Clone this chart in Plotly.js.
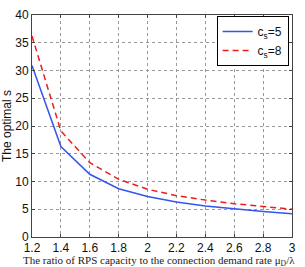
<!DOCTYPE html>
<html><head><meta charset="utf-8">
<script src="https://cdn.plot.ly/plotly-3.0.1.min.js"></script>
<style>html,body{margin:0;padding:0;background:#fff}#c{width:305px;height:267px}</style>
</head><body><div id="c"></div>
<script>
const ratio = [1.2, 1.4, 1.6, 1.8, 2.0, 2.2, 2.4, 2.6, 2.8, 3.0];
const cs5 = [30.9, 16.3, 11.3, 8.7, 7.3, 6.3, 5.6, 5.05, 4.6, 4.2];
const cs8 = [36.2, 19.1, 13.4, 10.4, 8.6, 7.45, 6.65, 6.0, 5.5, 5.0];
const xTicks = [1.2, 1.4, 1.6, 1.8, 2, 2.2, 2.4, 2.6, 2.8, 3];
const yTicks = [0, 5, 10, 15, 20, 25, 30, 35, 40];

const traces = [
  {x: ratio, y: cs5, mode: 'lines', name: 'c<sub>s</sub>=5',
   line: {color: '#3355ee', width: 1.5}},
  {x: ratio, y: cs8, mode: 'lines', name: 'c<sub>s</sub>=8',
   line: {color: '#ee1c1c', width: 1.5, dash: '6px,4px'}}
];
const axisCommon = {
  showline: true, mirror: 'ticks', linecolor: '#444', linewidth: 1,
  ticks: 'inside', ticklen: 3, tickcolor: '#444',
  showgrid: true, gridcolor: '#999', griddash: 'dot', gridwidth: 1,
  zeroline: false, automargin: false,
  tickfont: {family: 'Liberation Sans, Arial', size: 12, color: '#111'}
};
const layout = {
  width: 305, height: 267,
  margin: {l: 32, r: 13, t: 15, b: 30},
  paper_bgcolor: '#fff', plot_bgcolor: '#fff',
  showlegend: true,
  legend: {x: 0.987, y: 0.995, xanchor: 'right', yanchor: 'top',
    bordercolor: '#000', borderwidth: 1, bgcolor: '#fff',
    font: {family: 'Liberation Sans, Arial', size: 12, color: '#111'},
    tracegroupgap: 2},
  xaxis: Object.assign({}, axisCommon, {
    range: [1.2, 3], tickvals: xTicks, ticktext: xTicks.map(String)
  }),
  yaxis: Object.assign({}, axisCommon, {
    range: [0, 40], tickvals: yTicks, ticktext: yTicks.map(String),
    title: {text: 'The optimal s',
      font: {family: 'Liberation Sans, Arial', size: 12, color: '#111'}, standoff: 2}
  }),
  annotations: [{
    text: 'The ratio of RPS capacity to the connection demand rate μ<sub>D</sub>/λ',
    xref: 'paper', yref: 'paper', x: 0.49, y: -0.106, xanchor: 'center', yanchor: 'middle',
    showarrow: false,
    font: {family: 'Liberation Serif, Times New Roman', size: 11, color: '#222'}
  }]
};
Plotly.newPlot('c', traces, layout, {displayModeBar: false, staticPlot: true});
</script></body></html>
